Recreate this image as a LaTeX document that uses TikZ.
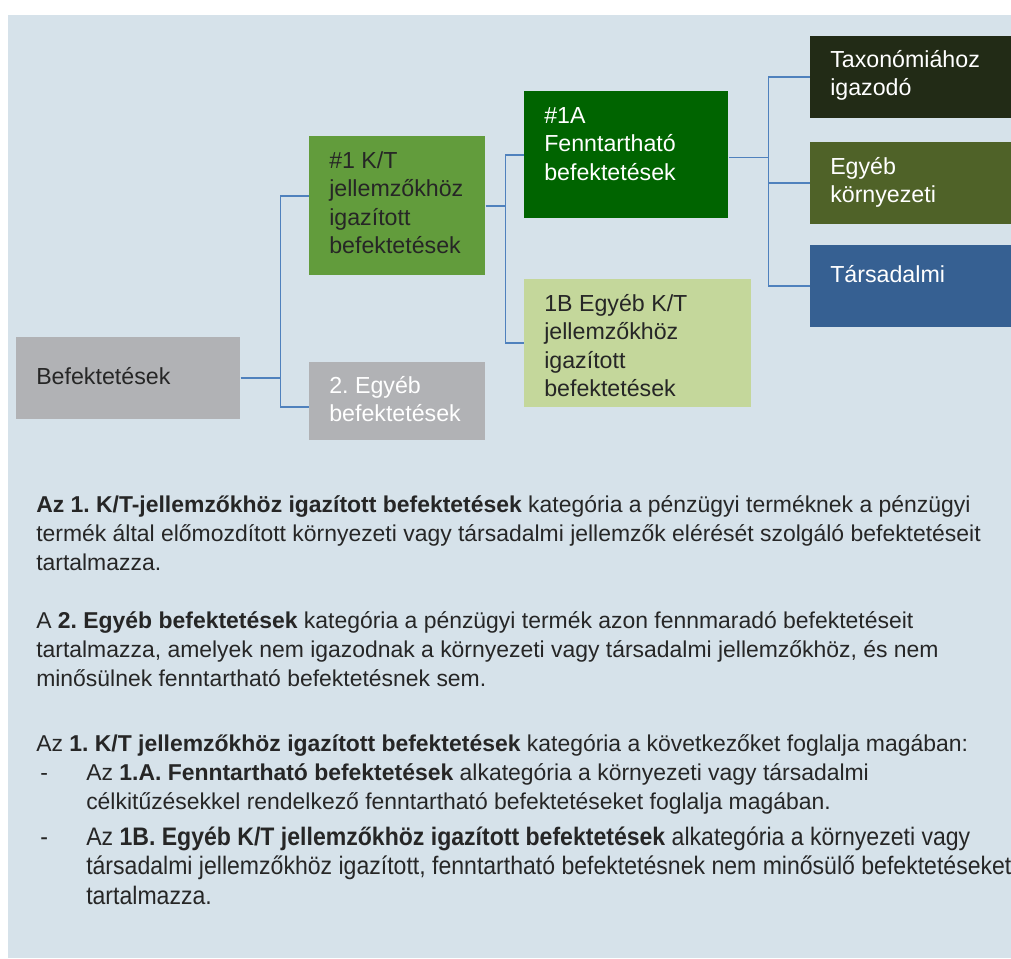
\documentclass[tikz,border=0pt]{standalone}
\usepackage{fontspec}
\setmainfont{Liberation Sans}
\newfontfamily\narrowfont[FakeStretch=0.91]{Liberation Sans}
\frenchspacing
\definecolor{bgblue}{HTML}{D6E2EA}
\definecolor{conncol}{HTML}{4F81BD}
\definecolor{txtdark}{HTML}{262626}
\definecolor{greygray}{HTML}{B1B2B5}
\definecolor{midgreen}{HTML}{629C3C}
\definecolor{darkgreen}{HTML}{006400}
\definecolor{lightgreen}{HTML}{C4D79B}
\definecolor{darkolive}{HTML}{222B16}
\definecolor{olive}{HTML}{4F6228}
\definecolor{steelblue}{HTML}{366092}
\newcommand{\fl}{\rule{0pt}{16pt}}
\tikzset{
  box/.style={anchor=north west, inner sep=0pt, draw=none},
  conn/.style={draw=conncol, line width=1.4pt},
  boxtxt/.style={anchor=north west, inner sep=0pt, align=left, yshift=16pt,
    font=\fontsize{17.4}{21.4}\selectfont},
  bodytxt/.style={anchor=north west, inner sep=0pt, align=left, yshift=16pt,
    text=txtdark, font=\fontsize{17.2}{21.75}\selectfont},
  narrowtxt/.style={bodytxt, font=\narrowfont\fontsize{19}{22.1}\selectfont},
}
\begin{document}
\begin{tikzpicture}[x=0.75pt,y=-0.75pt]
\useasboundingbox (0,0) rectangle (1011,958);
\fill[white] (0,0) rectangle (1011,958);
\fill[bgblue] (8,15) rectangle (1011,958);

% boxes
\node[box, fill=greygray, minimum width=168pt, minimum height=61.5pt] (b0) at (16,337) {};
\node[box, fill=midgreen, minimum width=132pt, minimum height=104.25pt] (b1) at (309,136) {};
\node[box, fill=greygray, minimum width=132pt, minimum height=58.5pt] (b2) at (309,362) {};
\node[box, fill=darkgreen, minimum width=153pt, minimum height=95.25pt] (b1a) at (524,91) {};
\node[box, fill=lightgreen, minimum width=170.25pt, minimum height=96pt] (b1b) at (524,279) {};
\node[box, fill=darkolive, minimum width=150.75pt, minimum height=61.5pt] (bt) at (810,36) {};
\node[box, fill=olive, minimum width=150.75pt, minimum height=61.5pt] (be) at (810,142) {};
\node[box, fill=steelblue, minimum width=150.75pt, minimum height=61.5pt] (bs) at (810,245) {};

% box texts
\node[boxtxt, text=txtdark] (t0) at (36,384) {\fl Befektetések};
\node[boxtxt, text=txtdark] (t1) at (329,168) {\fl\#1 K/T\\jellemzőkhöz\\igazított\\befektetések};
\node[boxtxt, text=white] (t2) at (329,393) {\fl 2. Egyéb\\befektetések};
\node[boxtxt, text=white] (t1a) at (544,123) {\fl\#1A\\Fenntartható\\befektetések};
\node[boxtxt, text=txtdark] (t1b) at (544,311) {\fl 1B Egyéb K/T\\jellemzőkhöz\\igazított\\befektetések};
\node[boxtxt, text=white] (tt) at (830,67) {\fl Taxonómiához\\igazodó};
\node[boxtxt, text=white] (te) at (830,174) {\fl Egyéb\\környezeti};
\node[boxtxt, text=white] (ts) at (830,282) {\fl Társadalmi};

% connectors
\draw[conn] (b0.east) -- ++(40,0) coordinate (j1);
\draw[conn] (j1) |- ([yshift=7.1pt]b1.west);
\draw[conn] (j1) |- ([yshift=-4.5pt]b2.west);
\draw[conn] (b1.east) -- ++(20,0) coordinate (j2);
\draw[conn] (j2) |- (b1a.west);
\draw[conn] (j2) |- (b1b.west);
\draw[conn] ([yshift=-2pt]b1a.east) -- ++(40,0) coordinate (j3);
\draw[conn] (j3) |- (bt.west);
\draw[conn] (j3) |- (be.west);
\draw[conn] (j3) |- (bs.west);

% body text
\node[bodytxt] (p1) at (36,512) {\fl\textbf{Az 1. K/T-jellemzőkhöz igazított befektetések} kategória a pénzügyi termék\-nek a pénzügyi\\termék által előmozdított környezeti vagy társadalmi jellemzők elérését szolgáló befektetéseit\\tartalmazza.};
\node[bodytxt] (p2) at (36,628) {\fl A \textbf{2. Egyéb befektetések} kategória a pénzügyi termék azon fennmaradó befektetéseit\\tartalmazza, amelyek nem igazodnak a környezeti vagy társadalmi jellemzőkhöz, és nem\\minősülnek fenntartható befektetésnek sem.};
\node[bodytxt] (p3) at (36,751) {\fl Az \textbf{1. K/T jellemzőkhöz igazított befektetések} kategória a következőket foglalja magában:};
\node[bodytxt] (d1) at (40,780) {\fl -};
\node[bodytxt] (p4) at (86,780) {\fl Az \textbf{1.A. Fenntartható befektetések} alkategória a környezeti vagy társadalmi\\célkitűzésekkel rendelkező fenntartható befektetéseket foglalja magában.};
\node[narrowtxt] (d2) at (40,845) {\fl -};
\node[narrowtxt] (p5) at (86,845) {\fl Az \textbf{1B. Egyéb K/T jellemzőkhöz igazított befektetések} alkategória a környezeti vagy\\társadalmi jellemzőkhöz igazított, fenntartható befektetésnek nem minősülő befektetéseket\\tartalmazza.};
\end{tikzpicture}
\end{document}
